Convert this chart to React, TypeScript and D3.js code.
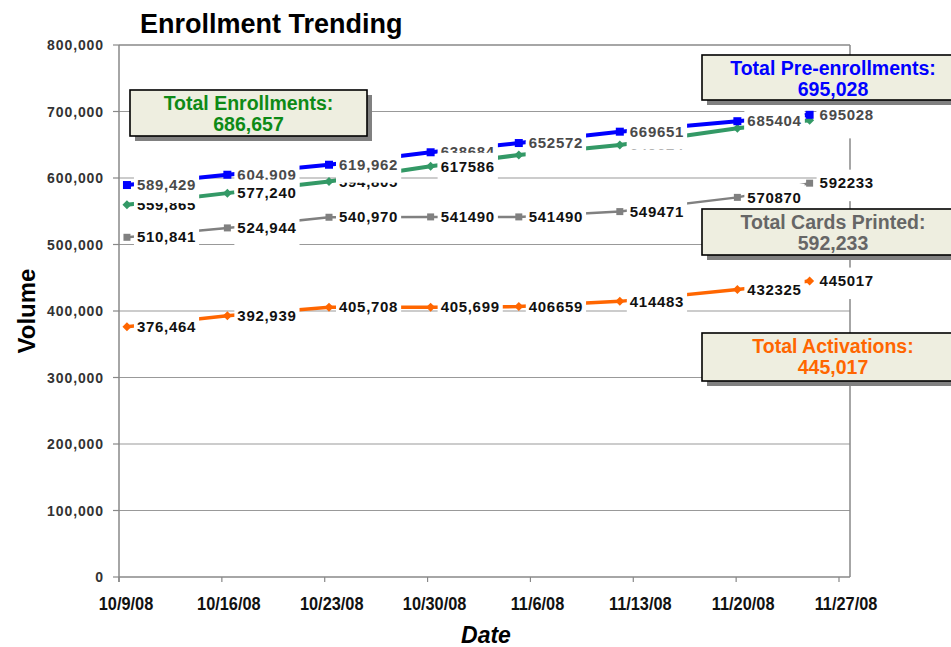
import React from "react";
import * as d3 from "d3";

// ---------- data ----------
const pointDates = ["10/9/08 13:00", "10/16/08 09:00", "10/23/08 07:00", "10/30/08 05:00", "11/5/08 05:00", "11/12/08 02:00", "11/20/08 02:00", "11/25/08 00:00"];
const tickLabels = ["10/9/08", "10/16/08", "10/23/08", "10/30/08", "11/6/08", "11/13/08", "11/20/08", "11/27/08"];
const yTickValues = [0, 100000, 200000, 300000, 400000, 500000, 600000, 700000, 800000];

const preEnrollments = [589429, 604909, 619962, 638684, 652572, 669651, 685404, 695028];
const enrollments = [559865, 577240, 594805, 617586, 634586, 649624, 674736, 686657];
const cardsPrinted = [510841, 524944, 540970, 541490, 541490, 549471, 570870, 592233];
const activations = [376464, 392939, 405708, 405699, 406659, 414483, 432325, 445017];

// how many leading labels use thousands separators
const commaCounts = { pre: 3, enr: 3, cards: 3, act: 4 };
// at which dates the green label sits above the blue one
const greenOnTop = [false, true, false, true, false, false, false, false];

const FONT = '"Liberation Sans", Arial, sans-serif';

const parsePoint = d3.timeParse("%m/%d/%y %H:%M");
const parseTick = d3.timeParse("%m/%d/%y");

let ctx: CanvasRenderingContext2D | null = null;
function textWidth(s: string, size: number, ls: number) {
  if (!ctx) ctx = document.createElement("canvas").getContext("2d");
  if (!ctx) return s.length * size * 0.55;
  ctx.font = `bold ${size}px "Liberation Sans", Arial`;
  return ctx.measureText(s).width + ls * s.length;
}

type SeriesDef = {
  key: string;
  values: number[];
  color: string;
  width: number;
  marker: "square" | "diamond";
  msize: number;
  labelColor: string;
  commas: number;
};

const series: SeriesDef[] = [
  { key: "cards", values: cardsPrinted, color: "#808080", width: 2.5, marker: "square", msize: 7, labelColor: "#111", commas: commaCounts.cards },
  { key: "act", values: activations, color: "#FF6600", width: 3.5, marker: "diamond", msize: 9, labelColor: "#111", commas: commaCounts.act },
  { key: "enr", values: enrollments, color: "#339966", width: 4, marker: "diamond", msize: 9, labelColor: "#111", commas: commaCounts.enr },
  { key: "pre", values: preEnrollments, color: "#0000FF", width: 4, marker: "square", msize: 8, labelColor: "#4a4a4a", commas: commaCounts.pre },
];

const annotations = [
  { title: "Total Enrollments:", value: enrollments[enrollments.length - 1], color: "#0E8A16", x: 130, y: 90, w: 237, h: 46 },
  { title: "Total Pre-enrollments:", value: preEnrollments[preEnrollments.length - 1], color: "#0000FF", x: 702, y: 55, w: 262, h: 45 },
  { title: "Total Cards Printed:", value: cardsPrinted[cardsPrinted.length - 1], color: "#666666", x: 702, y: 209, w: 262, h: 46 },
  { title: "Total Activations:", value: activations[activations.length - 1], color: "#FF6600", x: 702, y: 333, w: 262, h: 48 },
];

export default function App() {
  const left = 119, right = 850, top = 45, bottom = 577;
  const tickDates = tickLabels.map((t) => parseTick(t) as Date);
  const dates = pointDates.map((d) => parsePoint(d) as Date);
  const x = d3.scaleTime().domain([tickDates[0], tickDates[tickDates.length - 1]]).range([119, 839]);
  const y = d3.scaleLinear().domain([0, 800000]).range([bottom, top]);
  const fmt = d3.format(",");
  const line = d3.line<number>().x((_, i) => x(dates[i])).y((v) => y(v));

  const LS = 15, LSP = 0.7;

  const labelFor = (s: SeriesDef, i: number) => {
    const v = s.values[i];
    const txt = i < s.commas ? fmt(v) : String(v);
    const px = x(dates[i]);
    const py = y(v);
    const tw = textWidth(txt, LS, LSP);
    return (
      <g key={s.key + "-lab-" + i}>
        <rect x={px + 7} y={py - 13.5} width={tw + 6} height={31.5} fill="#fff" />
        <text x={px + 10} y={py + 5.2} fontSize={LS} fontWeight="bold" fill={s.labelColor} style={{ letterSpacing: LSP + "px" }}>
          {txt}
        </text>
      </g>
    );
  };

  const byKey = (k: string) => series.find((s) => s.key === k)!;
  const labels: React.ReactNode[] = [];
  dates.forEach((_, i) => {
    labels.push(labelFor(byKey("cards"), i));
    labels.push(labelFor(byKey("act"), i));
    if (greenOnTop[i]) {
      labels.push(labelFor(byKey("pre"), i));
      labels.push(labelFor(byKey("enr"), i));
    } else {
      labels.push(labelFor(byKey("enr"), i));
      labels.push(labelFor(byKey("pre"), i));
    }
  });

  return (
    <svg width={951} height={647} style={{ position: "absolute", left: 0, top: 0, background: "#fff" }} fontFamily={FONT}>
      {/* title */}
      <text x={140} y={33} fontSize={27} fontWeight="bold" fill="#000">Enrollment Trending</text>

      {/* gridlines */}
      {yTickValues.filter((v) => v > 0 && v < 800000).map((v) => (
        <line key={"g" + v} x1={left} x2={right} y1={y(v)} y2={y(v)} stroke="#999" strokeWidth={1.2} />
      ))}
      {/* frame */}
      <line x1={left} x2={right} y1={top} y2={top} stroke="#888" strokeWidth={1.5} />
      <line x1={right} x2={right} y1={top} y2={bottom} stroke="#888" strokeWidth={1.5} />
      <line x1={left} x2={right} y1={bottom} y2={bottom} stroke="#888" strokeWidth={1.5} />
      <line x1={left} x2={left} y1={top} y2={bottom + 5} stroke="#888" strokeWidth={1.5} />

      {/* y ticks */}
      {yTickValues.map((v) => (
        <g key={"yt" + v}>
          <line x1={left - 6} x2={left} y1={y(v)} y2={y(v)} stroke="#888" strokeWidth={1.2} />
          <text x={104} y={y(v) + 5} textAnchor="end" fontSize={14} fontWeight="bold" fill="#333" style={{ letterSpacing: "0.9px" }}>
            {fmt(v)}
          </text>
        </g>
      ))}
      {/* x ticks */}
      {tickDates.map((d, i) => (
        <g key={"xt" + i}>
          <line x1={x(d)} x2={x(d)} y1={bottom} y2={bottom + 5} stroke="#888" strokeWidth={1.2} />
          <text transform={`translate(${x(d) + 7},${610}) scale(0.86,1)`} textAnchor="middle" fontSize={19} fontWeight="bold" fill="#111">
            {tickLabels[i]}
          </text>
        </g>
      ))}

      {/* axis titles */}
      <text transform={`translate(35,311) rotate(-90)`} textAnchor="middle" fontSize={24} fontWeight="bold" fill="#000">Volume</text>
      <text x={486} y={643} textAnchor="middle" fontSize={23} fontWeight="bold" fontStyle="italic" fill="#000">Date</text>

      {/* lines and markers */}
      {series.map((s) => (
        <g key={s.key}>
          <path d={line(s.values) || ""} fill="none" stroke={s.color} strokeWidth={s.width} />
          {s.values.map((v, i) => {
            const px = x(dates[i]);
            const py = y(v);
            const m = s.msize;
            return s.marker === "square" ? (
              <rect key={i} x={px - m / 2} y={py - m / 2} width={m} height={m} fill={s.color} />
            ) : (
              <path key={i} d={`M${px},${py - m / 2}L${px + m / 2},${py}L${px},${py + m / 2}L${px - m / 2},${py}Z`} fill={s.color} />
            );
          })}
        </g>
      ))}

      {/* data labels */}
      {labels}

      {/* annotation boxes */}
      {annotations.map((a) => (
        <g key={a.title}>
          <rect x={a.x + 5} y={a.y + 5} width={a.w} height={a.h} fill="#808080" />
          <rect x={a.x} y={a.y} width={a.w} height={a.h} fill="#EEEEE0" stroke="#000" strokeWidth={1.6} />
          <text x={a.x + a.w / 2} y={a.y + 19.5} textAnchor="middle" fontSize={19.5} fontWeight="bold" fill={a.color}>{a.title}</text>
          <text x={a.x + a.w / 2} y={a.y + 41} textAnchor="middle" fontSize={19.5} fontWeight="bold" fill={a.color}>{fmt(a.value)}</text>
        </g>
      ))}
    </svg>
  );
}
